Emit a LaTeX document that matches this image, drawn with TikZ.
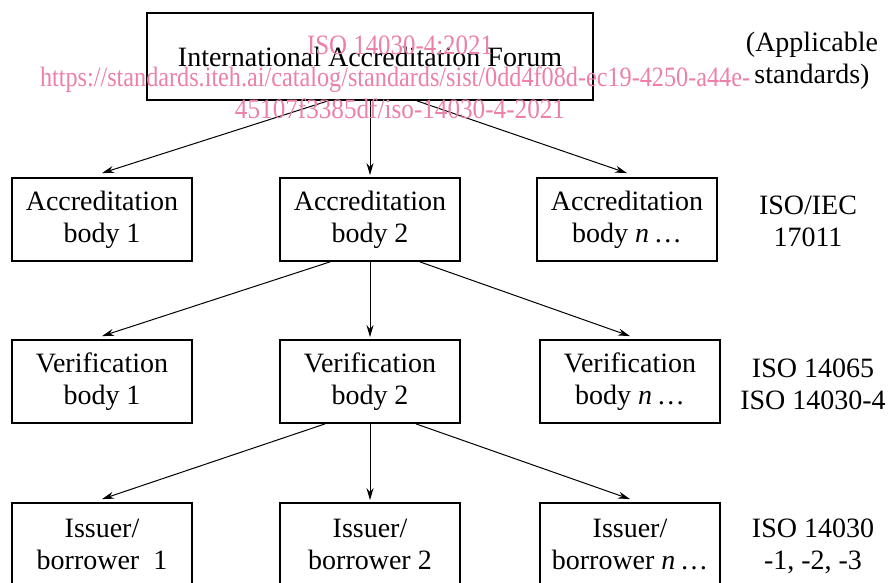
\documentclass[tikz,border=0pt]{standalone}
\usepackage{fontspec}
\setmainfont{Liberation Serif}
\usetikzlibrary{arrows.meta}
\definecolor{wmpink}{RGB}{236,128,168}
\begin{document}
\begin{tikzpicture}[x=1pt,y=-1pt,
  box/.style={draw,line width=1.8pt,minimum width=180pt,minimum height=83pt,align=center,inner sep=0pt},
  link/.style={-{Stealth[length=12pt,width=7pt]},line width=1pt},
  std/.style={align=center}]
\clip (0,0) rectangle (888,583);
\begin{scope}[font=\fontsize{28}{32}\selectfont]
  \node[box,minimum width=446pt,minimum height=87pt] (iaf) at (370,56.5) {International Accreditation Forum};
  \node[box] (ab1) at (102,219.5) {Accreditation\\body 1};\node[box] (ab2) at (370,219.5) {Accreditation\\body 2};\node[box] (ab3) at (627,219.5) {Accreditation\\body \textit{n}\,\dots};
  \node[box] (vb1) at (102,381.5) {Verification\\body 1};\node[box] (vb2) at (370,381.5) {Verification\\body 2};\node[box] (vb3) at (630,381.5) {Verification\\body \textit{n}\,\dots};
  \node[box] (ib1) at (102,544.5) {Issuer/\\borrower\ \ 1};\node[box] (ib2) at (370,544.5) {Issuer/\\borrower 2};\node[box] (ib3) at (630,544.5) {Issuer/\\borrower \textit{n}\,\dots};
  \node[std] (s0) at (812,61) {(Applicable\\standards)};\node[std] (s1) at (808,221) {ISO/IEC\\17011};
  \node[std] (s2) at (813,384) {ISO 14065\\ISO 14030-4};\node[std] (s3) at (813,546) {ISO 14030\\-1, -2, -3};
\end{scope}
\draw[link] ([xshift=-42pt]iaf.south) -- ([yshift=4pt]ab1.north);\draw[link] (iaf.south) -- ([yshift=2pt]ab2.north);\draw[link] ([xshift=47pt]iaf.south) -- ([yshift=4pt]ab3.north);
\draw[link] ([xshift=-40pt]ab2.south) -- ([yshift=3pt]vb1.north);\draw[link] (ab2.south) -- ([yshift=2pt]vb2.north);\draw[link] ([xshift=50pt]ab2.south) -- ([yshift=3pt]vb3.north);
\draw[link] ([xshift=-45pt]vb2.south) -- ([yshift=3pt]ib1.north);\draw[link] (vb2.south) -- ([yshift=2pt]ib2.north);\draw[link] ([xshift=46pt]vb2.south) -- ([yshift=3pt]ib3.north);
% watermark
\begin{scope}[text=wmpink,font=\fontsize{28}{30}\selectfont,inner sep=0pt]
  \node[anchor=base] (wm1) at (400,55) {\resizebox{186pt}{\height}{ISO 14030-4:2021}};
  \node[anchor=base] (wm2) at (395,87) {\resizebox{710pt}{\height}{https://standards.iteh.ai/catalog/standards/sist/0dd4f08d-ec19-4250-a44e-}};
  \node[anchor=base] (wm3) at (400,118) {\resizebox{330pt}{\height}{45107f3385df/iso-14030-4-2021}};
\end{scope}
\end{tikzpicture}
\end{document}
